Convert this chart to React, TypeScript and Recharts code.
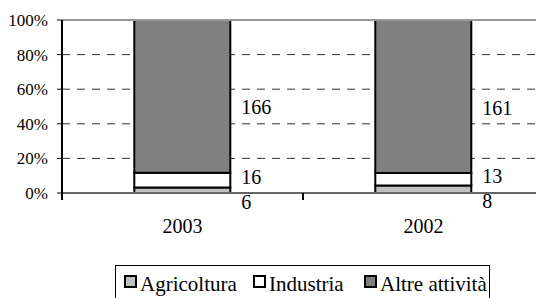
import React from 'react';
import { BarChart, Bar, XAxis, YAxis, CartesianGrid, ReferenceLine, LabelList } from 'recharts';

const years = ['2003', '2002'];
const agricoltura = [6, 8];
const industria = [16, 13];
const altre = [166, 161];
const yTicks = [0, 0.2, 0.4, 0.6, 0.8, 1];

const series = [
  { key: 'agricoltura', label: 'Agricoltura', color: '#c0c0c0', dy: 12, legendX: 8 },
  { key: 'industria', label: 'Industria', color: '#ffffff', dy: -3, legendX: 137 },
  { key: 'altre', label: 'Altre attività', color: '#808080', dy: 11, legendX: 248 },
];

const data = years.map((year, i) => ({
  year,
  agricoltura: agricoltura[i],
  industria: industria[i],
  altre: altre[i],
}));

const FONT = "'Times New Roman', 'Liberation Serif', 'DejaVu Serif', serif";
const CHART_W = 560;
const CHART_H = 298;
const MARGIN = { top: 20, right: 16, bottom: 75, left: 2 };
const PLOT_W = CHART_W - MARGIN.left - 60 - MARGIN.right;
const BAND = PLOT_W / years.length;

const YearTick = ({ x, y, payload }: any) => (
  <g>
    <line x1={x - BAND / 2} x2={x - BAND / 2} y1={y} y2={y + 7} stroke="#000" strokeWidth={2} />
    <text x={x} y={y + 40} textAnchor="middle" style={{ fontFamily: FONT }} fontSize={20} fill="#000">
      {payload.value}
    </text>
  </g>
);

const makeLabel = (dy: number) => (props: any) => {
  const { x, y, width, height, value } = props;
  return (
    <text
      x={x + width + 11}
      y={y + height / 2 + dy + 7}
      style={{ fontFamily: FONT }}
      fontSize={20}
      fill="#000"
    >
      {value}
    </text>
  );
};

const Legend = () => (
  <div
    style={{
      position: 'absolute',
      left: 115,
      top: 265,
      width: 375,
      height: 40,
      boxSizing: 'border-box',
      border: '1px solid #000',
      fontFamily: FONT,
      fontSize: 21,
      lineHeight: '24px',
      whiteSpace: 'nowrap',
    }}
  >
    {series.map((s) => (
      <span key={s.key} style={{ position: 'absolute', left: s.legendX, top: 6 }}>
        <span
          style={{
            display: 'inline-block',
            width: 13,
            height: 13,
            boxSizing: 'border-box',
            border: '2px solid #000',
            background: s.color,
            marginRight: 3,
            verticalAlign: '3px',
          }}
        />
        {s.label}
      </span>
    ))}
  </div>
);

export default function App() {
  return (
    <div
      style={{
        position: 'absolute',
        left: 0,
        top: 0,
        width: 536,
        height: 298,
        overflow: 'hidden',
        background: '#fff',
        fontFamily: FONT,
      }}
    >
      <BarChart
        width={CHART_W}
        height={CHART_H}
        data={data}
        margin={MARGIN}
        stackOffset="expand"
        barCategoryGap="30%"
        style={{ fontFamily: FONT }}
      >
        <CartesianGrid vertical={false} stroke="#333" strokeDasharray="8 7" />
        <ReferenceLine y={1} stroke="#999" strokeWidth={2} />
        <XAxis
          dataKey="year"
          height={30}
          axisLine={{ stroke: '#666', strokeWidth: 2 }}
          tickLine={false}
          tickSize={0}
          tickMargin={0}
          tick={<YearTick />}
          interval={0}
        />
        <YAxis
          width={60}
          domain={[0, 1]}
          ticks={yTicks}
          tickFormatter={(v) => `${Math.round(v * 100)}%`}
          axisLine={{ stroke: '#000', strokeWidth: 2 }}
          tickLine={{ stroke: '#000', strokeWidth: 1 }}
          tickSize={5}
          tickMargin={9}
          tick={{ fontFamily: FONT, fontSize: 17, fill: '#000' }}
        />
        {series.map((s) => (
          <Bar
            key={s.key}
            dataKey={s.key}
            name={s.label}
            stackId="a"
            fill={s.color}
            stroke="#000"
            strokeWidth={2}
            isAnimationActive={false}
          >
            <LabelList dataKey={s.key} content={makeLabel(s.dy)} />
          </Bar>
        ))}
      </BarChart>
      <Legend />
    </div>
  );
}
